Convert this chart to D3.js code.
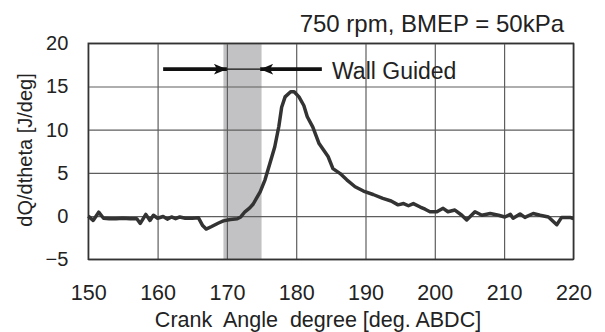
<!DOCTYPE html>
<html>
<head>
<meta charset="utf-8">
<script src="https://d3js.org/d3.v7.min.js"></script>
<style>
  body { margin: 0; background: #fff; }
  svg text { font-family: "Liberation Sans", Arial, sans-serif; fill: #222; }
</style>
</head>
<body>
<div id="chart"></div>
<script>
// crank angle [deg] and heat release rate dQ/dtheta [J/deg]
var angle = [150, 150.7, 151.5, 152.2, 153, 154, 155, 156, 157, 157.5, 158.3, 158.9, 159.4,
  160, 160.8, 161.4, 162, 162.6, 163.2, 164, 165, 165.9, 166.5, 167, 167.8, 168.8, 169.5,
  170.5, 171.5, 172, 172.6, 173.3, 173.8, 174.3, 174.8, 175.5, 176.2, 176.9, 177.5, 177.9,
  178.4, 179.2, 179.7, 180.4, 181.1, 181.6, 182.4, 183.3, 184.6, 185.3, 186.3, 187.3, 188.5,
  189.7, 191.1, 192.5, 193.7, 194.7, 195.5, 196.2, 196.9, 197.9, 198.6, 199.3, 200.3, 201.2,
  201.9, 202.9, 203.9, 204.6, 205.8, 206.8, 208, 209.2, 210.1, 210.9, 211.3, 212.3, 213,
  214.2, 215.2, 216.4, 217.6, 218.3, 219.5, 220];
var dQ = [0, -0.5, 0.45, -0.25, -0.3, -0.3, -0.25, -0.3, -0.3, -0.85, 0.2, -0.5, 0.1,
  -0.25, -0.05, -0.35, -0.1, -0.3, -0.1, -0.25, -0.25, -0.2, -1.1, -1.5, -1.2, -0.8, -0.55,
  -0.4, -0.3, -0.1, 0.5, 0.95, 1.4, 2.1, 2.8, 4.2, 6.1, 8.0, 10.4, 12.6,
  13.8, 14.4, 14.4, 13.8, 12.8, 11.5, 10.3, 8.4, 6.9, 5.5, 4.95, 4.2, 3.4,
  2.9, 2.5, 2.05, 1.75, 1.3, 1.45, 1.2, 1.45, 1.05, 0.8, 0.5, 0.5, 0.9,
  0.5, 0.7, 0.1, -0.45, 0.5, 0.1, 0.3, 0.1, -0.1, 0.2, -0.25, 0.25, -0.15,
  0.3, 0.1, -0.1, -1.0, -0.15, -0.15, -0.3];

var xTicks = [150, 160, 170, 180, 190, 200, 210, 220];
var yTicks = [-5, 0, 5, 10, 15, 20];

// wall guided window and arrows
var band = [169.5, 175];
var arrowLeft = [160.8, 170];
var arrowRight = [183.7, 174.8];
var arrowLevel = 17;

var svgWidth = 605;
var svgHeight = 332;

var margin = { top: 43.3, right: 31.6, bottom: 72.7, left: 88.3 };
var chartWidth = svgWidth - margin.left - margin.right;
var chartHeight = svgHeight - margin.top - margin.bottom;

var svg = d3.select("#chart")
  .append("svg")
  .attr("width", svgWidth)
  .attr("height", svgHeight);

var chartGroup = svg.append("g")
  .attr("transform", `translate(${margin.left}, ${margin.top})`);

var x = d3.scaleLinear().domain([150, 220]).range([0, chartWidth]);
var y = d3.scaleLinear().domain([-5, 20]).range([chartHeight, 0]);

// shaded band
chartGroup.append("rect")
  .attr("x", x(band[0]))
  .attr("y", 0)
  .attr("width", x(band[1]) - x(band[0]))
  .attr("height", chartHeight)
  .attr("fill", "#c2c2c4");

// grid lines
chartGroup.append("g")
  .attr("class", "grid")
  .attr("transform", `translate(0, ${chartHeight})`)
  .call(d3.axisBottom(x).tickValues(xTicks).tickSize(-chartHeight).tickFormat(""))
  .call(g => g.select(".domain").remove());

chartGroup.append("g")
  .attr("class", "grid")
  .call(d3.axisLeft(y).tickValues(yTicks).tickSize(-chartWidth).tickFormat(""))
  .call(g => g.select(".domain").remove());

chartGroup.selectAll(".grid line")
  .attr("stroke", "#5e5e5e")
  .attr("stroke-width", 1.2);

// plot border
chartGroup.append("rect")
  .attr("width", chartWidth)
  .attr("height", chartHeight)
  .attr("fill", "none")
  .attr("stroke", "#333")
  .attr("stroke-width", 1.5);

// tick labels
var bottomAxis = chartGroup.append("g")
  .attr("transform", `translate(0, ${chartHeight})`)
  .call(d3.axisBottom(x).tickValues(xTicks).tickSize(0).tickPadding(25));
bottomAxis.select(".domain").remove();
bottomAxis.selectAll("text")
  .style("font-size", "21.5px")
  .attr("fill", "#222");

var leftAxis = chartGroup.append("g")
  .call(d3.axisLeft(y).tickValues(yTicks).tickSize(0).tickPadding(20));
leftAxis.select(".domain").remove();
leftAxis.selectAll("text")
  .style("font-size", "20px")
  .attr("fill", "#222");

// the curve
var line = d3.line()
  .x((d, i) => x(angle[i]))
  .y(d => y(d));

chartGroup.append("path")
  .datum(dQ)
  .attr("d", line)
  .attr("fill", "none")
  .attr("stroke", "#333")
  .attr("stroke-width", 3.5)
  .attr("stroke-linejoin", "round");

// arrows
svg.append("defs").append("marker")
  .attr("id", "head")
  .attr("viewBox", "0 0 12 10")
  .attr("refX", 12)
  .attr("refY", 5)
  .attr("markerWidth", 13)
  .attr("markerHeight", 11)
  .attr("markerUnits", "userSpaceOnUse")
  .attr("orient", "auto")
  .append("path")
  .attr("d", "M0,0 L12,5 L0,10 L3,5 Z")
  .attr("fill", "#111");

chartGroup.append("line")
  .attr("x1", x(arrowLeft[1]))
  .attr("x2", x(arrowRight[1]))
  .attr("y1", y(arrowLevel))
  .attr("y2", y(arrowLevel))
  .attr("stroke", "#111")
  .attr("stroke-width", 1.2);

[arrowLeft, arrowRight].forEach(function(a) {
  chartGroup.append("line")
    .attr("x1", x(a[0]))
    .attr("x2", x(a[1]))
    .attr("y1", y(arrowLevel))
    .attr("y2", y(arrowLevel))
    .attr("stroke", "#111")
    .attr("stroke-width", 3.8)
    .attr("marker-end", "url(#head)");
});

chartGroup.append("text")
  .attr("x", 332 - margin.left)
  .attr("y", 79.3 - margin.top)
  .style("font-size", "23px")
  .text("Wall Guided");

// title
svg.append("text")
  .attr("x", 564)
  .attr("y", 31.5)
  .attr("text-anchor", "end")
  .style("font-size", "24px")
  .text("750 rpm, BMEP = 50kPa");

// axis titles
svg.append("text")
  .attr("x", 318)
  .attr("y", 326.5)
  .attr("text-anchor", "middle")
  .style("font-size", "21.5px")
  .style("white-space", "pre")
  .text("Crank  Angle  degree [deg. ABDC]");

svg.append("text")
  .attr("transform", "translate(32, 150) rotate(-90)")
  .attr("text-anchor", "middle")
  .style("font-size", "20px")
  .text("dQ/dtheta [J/deg]");
</script>
</body>
</html>
